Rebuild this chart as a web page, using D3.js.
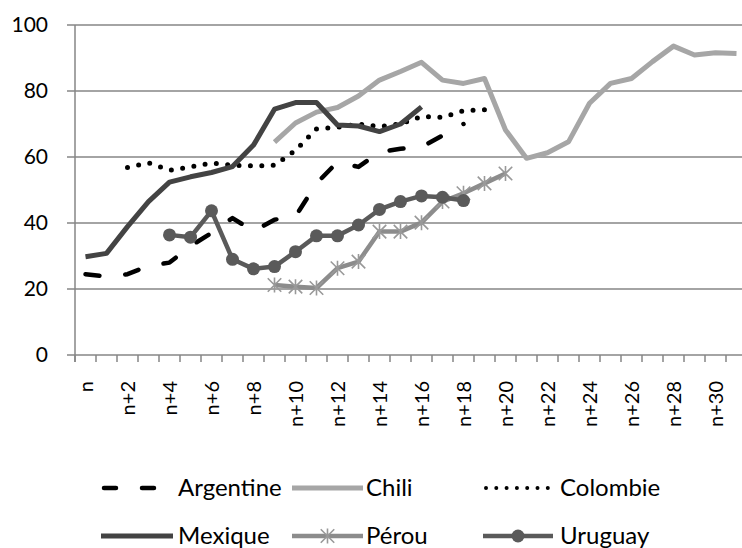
<!DOCTYPE html>
<html>
<head>
<meta charset="utf-8">
<script src="https://cdn.jsdelivr.net/npm/d3@7"></script>
<style>
  html, body { margin: 0; padding: 0; background: #fff; }
  svg { display: block; font-family: Lato, "Open Sans", sans-serif; }
</style>
</head>
<body>
<svg id="chart" width="742" height="548"></svg>
<script>
// ---- data ----
const categories = d3.range(32).map(i => i === 0 ? "n" : "n+" + i);
const tickLabels = categories.filter((c, i) => i % 2 === 0);
const yTicks = [0, 20, 40, 60, 80, 100];

const argentine = [24.5, 23.8, 24.5, 27, 28, 33, 37, 41.5, 37.5, 41, 42, 52, 58.5, 57, 61.5, 62.5, 63, 66.5, 70];
const chili = [null, null, null, null, null, null, null, null, null, 64.5, 70.3, 73.6, 75, 78.5, 83.3, 85.9, 88.7, 83.3, 82.3, 83.8, 68.2, 59.6, 61.3, 64.6, 76.3, 82.3, 83.8, 88.9, 93.6, 90.9, 91.6, 91.4];
const colombie = [null, null, 56.8, 58.2, 56, 57, 58.2, 57.5, 57.3, 57.5, 62, 68.5, 69, 70, 69.2, 70, 72.3, 72, 74, 74.3];
const mexique = [29.8, 30.8, 38.9, 46.5, 52.4, 54, 55.3, 57.1, 63.6, 74.5, 76.5, 76.5, 69.7, 69.4, 67.7, 70, 75.2];
const perou = [null, null, null, null, null, null, null, null, null, 21.2, 20.7, 20.3, 26.3, 28.3, 37.4, 37.4, 40.1, 46.5, 49, 52, 55];
const uruguay = [null, null, null, null, 36.4, 35.7, 43.7, 29, 26.1, 26.8, 31.3, 36.1, 36.1, 39.4, 44.1, 46.5, 48.2, 47.8, 46.8];

const seriesNames = ["Argentine", "Chili", "Colombie", "Mexique", "Pérou", "Uruguay"];
const seriesValues = [argentine, chili, colombie, mexique, perou, uruguay];

// ---- styles ----
const styles = {
  "Argentine": { color: "#000000", width: 4.5, dash: "14,26", cap: "round", marker: null },
  "Chili":     { color: "#a6a6a6", width: 5,   dash: null,    cap: "butt",  marker: null },
  "Colombie":  { color: "#000000", width: 5,   dash: "0,11.4", cap: "round", marker: null },
  "Mexique":   { color: "#434343", width: 5,   dash: null,    cap: "butt",  marker: null },
  "Pérou":     { color: "#8c8c8c", width: 4.5, dash: null,    cap: "butt",  marker: "star" },
  "Uruguay":   { color: "#5a5a5a", width: 4.5, dash: null,    cap: "butt",  marker: "circle" }
};

const svg = d3.select("#chart");
const plotLeft = 75, plotTop = 25, plotBottom = 355, plotRight = 747;

const x = d3.scaleBand().domain(categories).range([plotLeft, plotRight]).padding(0);
const y = d3.scaleLinear().domain([0, 100]).range([plotBottom, plotTop]);
const cx = c => x(c) + x.bandwidth() / 2;

// gridlines
svg.append("g").selectAll("line").data(yTicks).join("line")
  .attr("x1", plotLeft - 8).attr("x2", 742)
  .attr("y1", d => y(d)).attr("y2", d => y(d))
  .attr("stroke", "#868686").attr("stroke-width", 1.5);

// y axis line
svg.append("line").attr("x1", plotLeft).attr("x2", plotLeft).attr("y1", plotTop).attr("y2", plotBottom + 7)
  .attr("stroke", "#868686").attr("stroke-width", 1.5);

// y labels
svg.append("g").selectAll("text").data(yTicks).join("text")
  .attr("x", 48).attr("y", d => y(d)).attr("dy", "0.35em")
  .attr("text-anchor", "end").attr("font-size", 21).attr("fill", "#000")
  .text(d => d);

// x ticks at band boundaries
const boundaries = categories.map(c => x(c)).concat([plotRight]);
svg.append("g").selectAll("line").data(boundaries).join("line")
  .attr("x1", d => d).attr("x2", d => d)
  .attr("y1", plotBottom).attr("y2", plotBottom + 7)
  .attr("stroke", "#868686").attr("stroke-width", 1.5);

// x labels
svg.append("g").selectAll("text").data(tickLabels).join("text")
  .attr("transform", d => `translate(${cx(d)},381) rotate(-90)`)
  .attr("dy", "0.35em").attr("text-anchor", "end")
  .attr("font-size", 20).attr("fill", "#000")
  .text(d => d);

// lines
const line = d3.line()
  .defined(d => d.v !== null && d.v !== undefined)
  .x(d => cx(d.c)).y(d => y(d.v));

function starPath(s) {
  const d = s * 0.9;
  return `M0,${-s}L0,${s}M${-d},${-d}L${d},${d}M${-d},${d}L${d},${-d}`;
}

seriesNames.forEach((name, si) => {
  const st = styles[name];
  const pts = seriesValues[si].map((v, i) => ({ c: categories[i], v: v }));
  const path = svg.append("path").datum(pts)
    .attr("d", line)
    .attr("fill", "none")
    .attr("stroke", st.color)
    .attr("stroke-width", st.width)
    .attr("stroke-linejoin", "round")
    .attr("stroke-linecap", st.cap);
  if (st.dash) path.attr("stroke-dasharray", st.dash);
  const valid = pts.filter(p => p.v !== null && p.v !== undefined);
  if (st.marker === "circle") {
    svg.append("g").selectAll("circle").data(valid).join("circle")
      .attr("cx", d => cx(d.c)).attr("cy", d => y(d.v)).attr("r", 6.5)
      .attr("fill", st.color);
  } else if (st.marker === "star") {
    svg.append("g").selectAll("path").data(valid).join("path")
      .attr("transform", d => `translate(${cx(d.c)},${y(d.v)})`)
      .attr("d", starPath(7.5))
      .attr("fill", "none").attr("stroke", "#999999").attr("stroke-width", 1.6);
  }
});

// legend
const legendPos = [
  { sx: 101, ex: 173, tx: 178, cy: 488 },
  { sx: 292, ex: 363, tx: 366, cy: 488 },
  { sx: 483, ex: 553, tx: 560, cy: 488 },
  { sx: 101, ex: 173, tx: 178, cy: 536 },
  { sx: 292, ex: 363, tx: 366, cy: 536 },
  { sx: 483, ex: 553, tx: 560, cy: 536 }
];
seriesNames.forEach((name, i) => {
  const st = styles[name];
  const p = legendPos[i];
  const g = svg.append("g");
  let x1 = p.sx, x2 = p.ex;
  if (name === "Argentine") { x1 = 104; x2 = 173; }
  if (name === "Colombie") { x1 = 486; x2 = 548; }
  const l = g.append("line").attr("x1", x1).attr("x2", x2).attr("y1", p.cy).attr("y2", p.cy)
    .attr("stroke", st.color).attr("stroke-width", st.width).attr("stroke-linecap", st.cap);
  if (name === "Argentine") l.attr("stroke-dasharray", "12,26");
  if (name === "Colombie") l.attr("stroke-dasharray", "0,10.3").attr("stroke-width", 4);
  if (st.marker === "circle") {
    g.append("circle").attr("cx", (p.sx + p.ex) / 2).attr("cy", p.cy).attr("r", 6.5).attr("fill", st.color);
  } else if (st.marker === "star") {
    g.append("path").attr("transform", `translate(${(p.sx + p.ex) / 2},${p.cy})`)
      .attr("d", starPath(7.5)).attr("fill", "none").attr("stroke", "#999999").attr("stroke-width", 1.6);
  }
  g.append("text").attr("x", p.tx).attr("y", p.cy).attr("dy", "0.35em")
    .attr("font-size", 24).attr("fill", "#000").text(name);
});
</script>
</body>
</html>
